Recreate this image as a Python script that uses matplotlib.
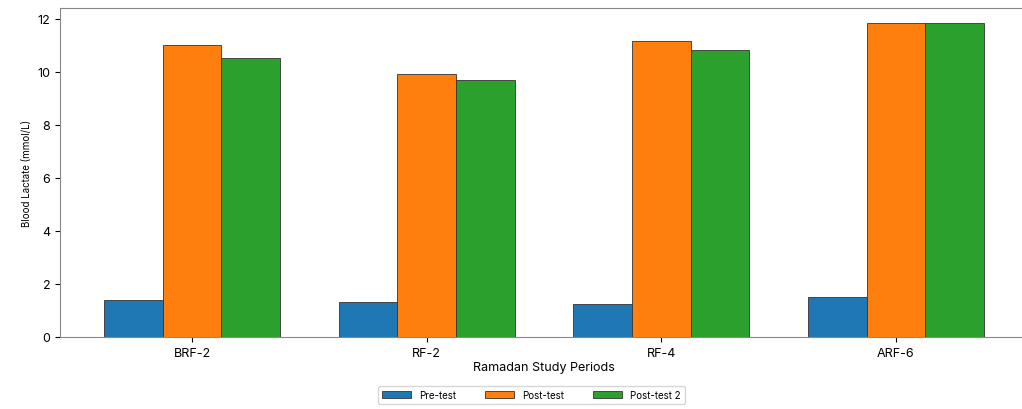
import numpy as np
import matplotlib.pyplot as plt

plt.rcParams['font.family'] = ['Inter', 'DejaVu Sans']

periods = ['BRF-2', 'RF-2', 'RF-4', 'ARF-6']
pre_test = [1.4, 1.3, 1.25, 1.5]
post_test = [11.0, 9.9, 11.15, 11.85]
post_test2 = [10.5, 9.7, 10.8, 11.85]

x = np.arange(len(periods))
width = 0.25

fig = plt.figure(figsize=(10.22, 4.10), dpi=100)
# the right spine falls just outside the picture in the reference
ax = fig.add_axes([0.0587, 0.176, 0.947, 0.802])

ax.bar(x - width, pre_test, width, label='Pre-test', color='#1f77b4', edgecolor='#333333', linewidth=0.6)
ax.bar(x, post_test, width, label='Post-test', color='#ff7f0e', edgecolor='#333333', linewidth=0.6)
ax.bar(x + width, post_test2, width, label='Post-test 2', color='#2ca02c', edgecolor='#333333', linewidth=0.6)

ax.set_xticks(x)
ax.set_xticklabels(periods, fontsize=9)
ax.tick_params(axis='y', labelsize=9)
ax.set_ylim(0, 12.4)
ax.set_xlabel('Ramadan Study Periods', fontsize=9, labelpad=2)
ax.set_ylabel('Blood Lactate (mmol/L)', fontsize=7)

for s in ax.spines.values():
    s.set_color('#888888')

fig.legend(loc='lower center', ncol=3, fontsize=7, bbox_to_anchor=(0.52, 0.0),
           frameon=True, handlelength=3, columnspacing=3)

fig.savefig('out.png', dpi=100)
